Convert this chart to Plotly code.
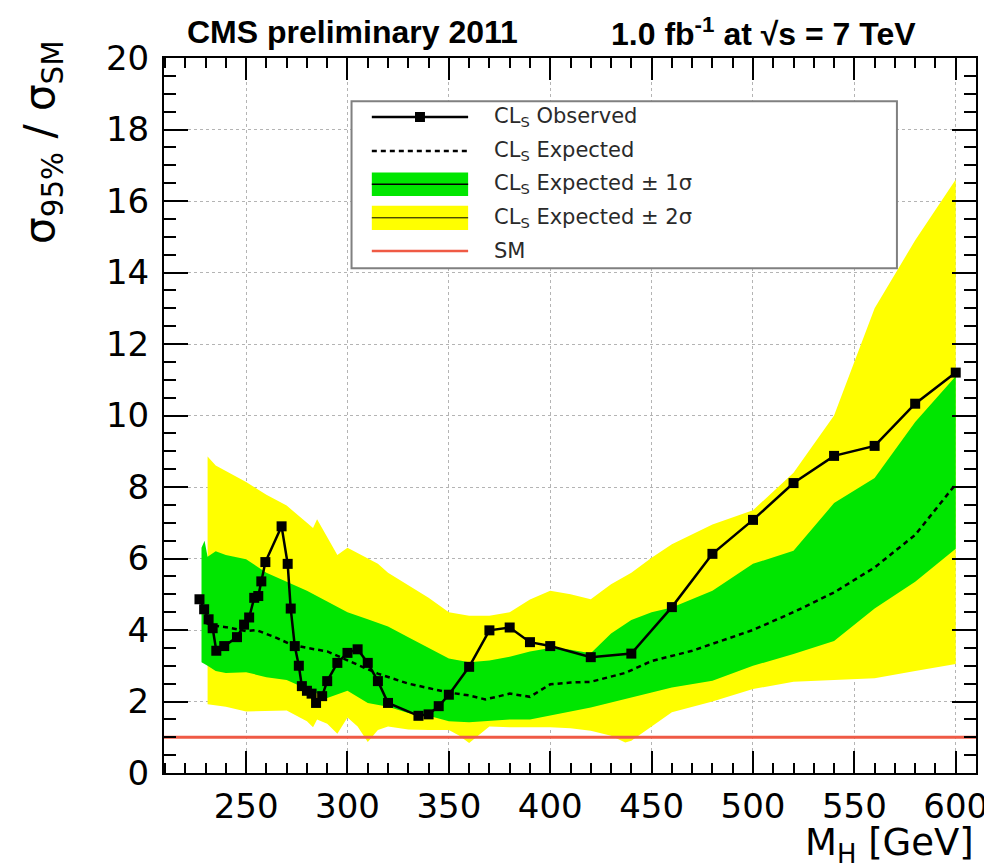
import plotly.graph_objects as go

# ---------------- data ----------------
obs_mass = [227.0, 229.3, 231.5, 233.5, 235.3, 239.2, 245.5, 249.0, 251.5, 254.0,
            256.0, 257.5, 259.5, 267.5, 270.5, 272.0, 274.0, 276.0, 277.5, 280.0,
            282.3, 284.5, 287.5, 290.0, 295.0, 300.0, 305.0, 310.0, 315.0, 320.0,
            335.0, 340.0, 345.0, 350.0, 360.0, 370.0, 380.0, 390.0, 400.0, 420.0,
            440.0, 460.0, 480.0, 500.0, 520.0, 540.0, 560.0, 580.0, 600.0]
obs_limit = [4.86, 4.58, 4.30, 4.05, 3.42, 3.55, 3.80, 4.15, 4.35, 4.90,
             4.95, 5.36, 5.90, 6.90, 5.85, 4.60, 3.55, 3.00, 2.43, 2.30,
             2.22, 1.96, 2.15, 2.57, 3.08, 3.36, 3.46, 3.08, 2.57, 1.96,
             1.60, 1.64, 1.87, 2.19, 2.97, 3.99, 4.07, 3.66, 3.55, 3.24,
             3.34, 4.64, 6.13, 7.08, 8.11, 8.87, 9.15, 10.33, 11.20]

exp_mass = [230, 234, 240, 250, 255, 265, 272, 280, 290, 300, 315, 330, 340, 350,
            360, 368, 375, 380, 390, 400, 410, 420, 437, 450, 470, 490, 500, 520,
            540, 560, 580, 600]
exp_limit = [4.20, 4.12, 4.08, 3.97, 4.00, 3.78, 3.60, 3.50, 3.40, 3.15, 2.78, 2.50,
             2.38, 2.25, 2.17, 2.06, 2.15, 2.22, 2.13, 2.48, 2.53, 2.55, 2.80, 3.13,
             3.42, 3.80, 4.00, 4.50, 5.05, 5.75, 6.66, 8.08]

two_sig_mass = [231, 235, 240, 250, 260, 270, 280, 283, 285, 290, 295, 300, 305, 310,
                315, 320, 330, 340, 350, 355, 360, 370, 380, 390, 400, 410, 420, 430,
                437, 440, 450, 460, 480, 500, 520, 540, 560, 580, 600]
two_sig_up = [8.85, 8.60, 8.45, 8.14, 7.78, 7.48, 7.00, 6.85, 7.10, 6.60, 6.10, 6.30,
              6.15, 6.00, 5.85, 5.60, 5.25, 4.90, 4.50, 4.45, 4.40, 4.40, 4.50, 4.85,
              5.10, 5.00, 4.86, 5.28, 5.50, 5.60, 6.02, 6.40, 6.95, 7.35, 8.40, 10.00,
              13.00, 14.90, 16.60]
two_sig_dn = [1.92, 1.90, 1.85, 1.72, 1.73, 1.75, 1.45, 1.28, 1.50, 1.38, 1.10, 1.55,
              1.30, 0.87, 1.20, 1.30, 1.22, 1.20, 1.20, 1.05, 0.84, 1.30, 1.28, 1.27,
              1.28, 1.25, 1.18, 1.04, 0.85, 0.90, 1.30, 1.70, 2.00, 2.35, 2.55, 2.60,
              2.65, 2.85, 3.05]

one_sig_mass = [228, 229.5, 231, 235, 240, 250, 260, 270, 280, 290, 300, 310, 320, 330,
                340, 350, 360, 370, 380, 390, 400, 410, 420, 430, 440, 450, 460, 480,
                500, 520, 540, 560, 580, 600]
one_sig_up = [6.30, 6.50, 6.05, 6.20, 6.10, 5.98, 5.60, 5.35, 5.10, 4.80, 4.50, 4.30,
              4.10, 3.80, 3.50, 3.20, 3.10, 3.15, 3.25, 3.40, 3.50, 3.45, 3.35, 3.90,
              4.28, 4.50, 4.63, 5.10, 5.85, 6.22, 7.55, 8.25, 9.82, 11.10]
one_sig_dn = [3.10, 3.05, 3.00, 2.85, 2.80, 2.82, 2.68, 2.60, 2.35, 2.10, 2.30, 1.96,
              1.85, 1.68, 1.60, 1.45, 1.42, 1.47, 1.50, 1.50, 1.60, 1.72, 1.83, 1.97,
              2.11, 2.25, 2.39, 2.58, 3.00, 3.33, 3.69, 4.60, 5.35, 6.27]

sm_mass = [209.5, 610.0]
sm_ratio = [1.0, 1.0]

x_ticks = [250, 300, 350, 400, 450, 500, 550, 600]
y_ticks = [0, 2, 4, 6, 8, 10, 12, 14, 16, 18, 20]

legend_labels = ["CL<sub>S</sub> Observed", "CL<sub>S</sub> Expected",
                 "CL<sub>S</sub> Expected \u00b1 1\u03c3", "CL<sub>S</sub> Expected \u00b1 2\u03c3",
                 "SM"]

# ---------------- styling ----------------
YELLOW = "#ffff00"
GREEN = "#00e600"
RED = "#ef5a45"
FONT = "DejaVu Sans, Arial, sans-serif"
HFONT = "Liberation Sans, Arial, Helvetica, sans-serif"

fig = go.Figure()

fig.add_trace(go.Scatter(
    x=two_sig_mass + two_sig_mass[::-1], y=two_sig_up + two_sig_dn[::-1],
    fill="toself", fillcolor=YELLOW, line=dict(width=0), mode="lines",
    hoverinfo="skip", showlegend=False))
fig.add_trace(go.Scatter(
    x=one_sig_mass + one_sig_mass[::-1], y=one_sig_up + one_sig_dn[::-1],
    fill="toself", fillcolor=GREEN, line=dict(width=0), mode="lines",
    hoverinfo="skip", showlegend=False))
fig.add_trace(go.Scatter(
    x=exp_mass, y=exp_limit, mode="lines",
    line=dict(color="black", width=2.5, dash="5px,4px"), showlegend=False))
fig.add_trace(go.Scatter(
    x=sm_mass, y=sm_ratio, mode="lines",
    line=dict(color=RED, width=3), showlegend=False))
fig.add_trace(go.Scatter(
    x=obs_mass, y=obs_limit, mode="lines+markers",
    line=dict(color="black", width=2.5),
    marker=dict(symbol="square", size=10, color="black"), showlegend=False))

# ---------------- legend (drawn manually, ROOT style) ----------------
LX0, LX1 = 302, 571
SX0, SX1 = 312, 359.5
rows = [18.35, 17.4, 16.47, 15.53, 14.6]
shapes = [
    dict(type="rect", xref="x", yref="y", x0=LX0, x1=LX1, y0=14.12, y1=18.79,
         line=dict(color="#808080", width=2), fillcolor="white", layer="above"),
    dict(type="line", xref="x", yref="y", x0=SX0, x1=SX1, y0=rows[0], y1=rows[0],
         line=dict(color="black", width=2.5), layer="above"),
    dict(type="rect", xref="x", yref="y", xsizemode="pixel", ysizemode="pixel",
         xanchor=(SX0 + SX1) / 2, yanchor=rows[0], x0=-5, x1=5, y0=-5, y1=5,
         fillcolor="black", line=dict(width=0), layer="above"),
    dict(type="line", xref="x", yref="y", x0=SX0, x1=SX1, y0=rows[1], y1=rows[1],
         line=dict(color="black", width=2.5, dash="5px,4px"), layer="above"),
    dict(type="rect", xref="x", yref="y", x0=SX0, x1=SX1, y0=rows[2] - 0.33, y1=rows[2] + 0.33,
         fillcolor=GREEN, line=dict(width=0), layer="above"),
    dict(type="line", xref="x", yref="y", x0=SX0, x1=SX1, y0=rows[2], y1=rows[2],
         line=dict(color="black", width=1.5), layer="above"),
    dict(type="rect", xref="x", yref="y", x0=SX0, x1=SX1, y0=rows[3] - 0.34, y1=rows[3] + 0.34,
         fillcolor=YELLOW, line=dict(width=0), layer="above"),
    dict(type="line", xref="x", yref="y", x0=SX0, x1=SX1, y0=rows[3], y1=rows[3],
         line=dict(color="black", width=1), layer="above"),
    dict(type="line", xref="x", yref="y", x0=SX0, x1=SX1, y0=rows[4], y1=rows[4],
         line=dict(color=RED, width=2.5), layer="above"),
]

annotations = []
for lab, ry in zip(legend_labels, rows):
    annotations.append(dict(xref="x", yref="y", x=371.5, y=ry, text=lab, showarrow=False,
                            xanchor="left", yanchor="middle",
                            font=dict(family=FONT, size=21, color="#2a2a2a")))

# titles
annotations += [
    dict(xref="paper", yref="paper", x=0.026, y=1.036, text="<b>CMS preliminary 2011</b>",
         showarrow=False, xanchor="left", yanchor="middle",
         font=dict(family=HFONT, size=32, color="black")),
    dict(xref="paper", yref="paper", x=0.928, y=1.036,
         text="<b>1.0 fb<sup>-1</sup> at \u221as = 7 TeV</b>",
         showarrow=False, xanchor="right", yanchor="middle",
         font=dict(family=HFONT, size=32, color="black")),
    dict(xref="paper", yref="paper", x=-0.149, y=1.026, textangle=-90,
         text="\u03c3<sub>95%</sub> / \u03c3<sub>SM</sub>",
         showarrow=False, xanchor="center", yanchor="top",
         font=dict(family=FONT, size=42, color="black")),
    dict(xref="paper", yref="paper", x=1.0, y=-0.101,
         text="M<sub>H</sub> [GeV]",
         showarrow=False, xanchor="right", yanchor="middle",
         font=dict(family=FONT, size=37, color="black")),
]

GRID = "#b4b4b4"
fig.update_layout(
    width=992, height=868, autosize=False,
    margin=dict(l=156, r=22, t=50, b=103),
    paper_bgcolor="white", plot_bgcolor="white",
    showlegend=False,
    shapes=shapes, annotations=annotations,
    xaxis=dict(range=[209.5, 610], tickvals=x_ticks, ticktext=[str(v) for v in x_ticks],
               ticks="inside", ticklen=22, tickwidth=2, tickcolor="black",
               showline=True, linecolor="black", linewidth=2, mirror="ticks",
               showgrid=True, gridcolor=GRID, griddash="dot", gridwidth=1,
               zeroline=False, ticklabelstandoff=2,
               minor=dict(ticks="inside", ticklen=10, tickwidth=1.5, tickcolor="black",
                          dtick=10, tick0=200, showgrid=False),
               tickfont=dict(family=FONT, size=34, color="black")),
    yaxis=dict(range=[0, 20], tickvals=y_ticks, ticktext=[str(v) for v in y_ticks],
               ticks="inside", ticklen=24, tickwidth=2, tickcolor="black",
               showline=True, linecolor="black", linewidth=2, mirror="ticks",
               showgrid=True, gridcolor=GRID, griddash="dot", gridwidth=1,
               zeroline=False, ticklabelstandoff=6,
               minor=dict(ticks="inside", ticklen=12, tickwidth=1.5, tickcolor="black",
                          dtick=0.5, tick0=0, showgrid=False),
               tickfont=dict(family=FONT, size=34, color="black")),
)

fig.write_html("out.html")
